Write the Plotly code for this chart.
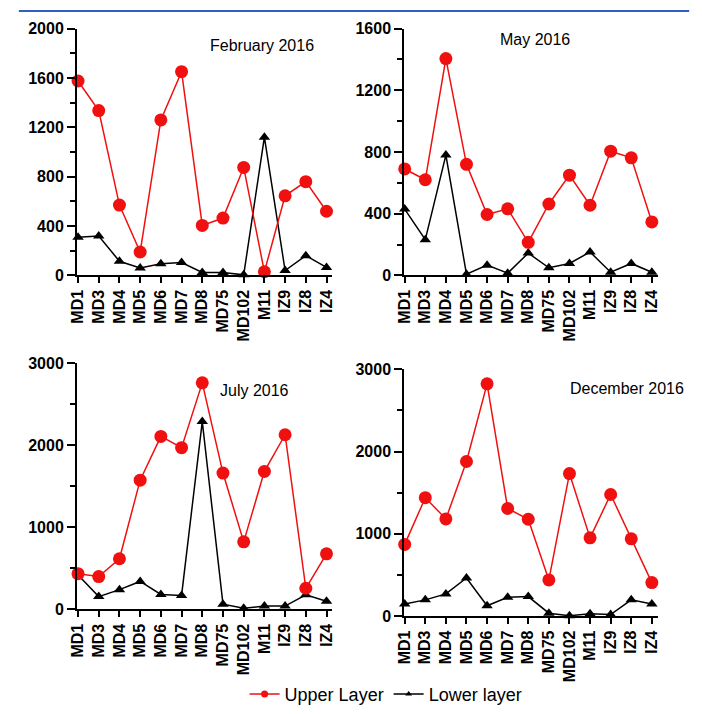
import plotly.graph_objects as go

sites = ["MD1", "MD3", "MD4", "MD5", "MD6", "MD7", "MD8", "MD75", "MD102", "M11", "IZ9", "IZ8", "IZ4"]

feb_upper = [1575, 1335, 570, 190, 1260, 1650, 405, 465, 875, 30, 645, 760, 520]
feb_lower = [310, 320, 115, 60, 95, 105, 25, 25, 5, 1120, 40, 160, 65]

may_upper = [690, 620, 1405, 720, 395, 432, 215, 463, 650, 455, 805, 762, 347]
may_lower = [430, 232, 780, 8, 67, 15, 145, 50, 78, 152, 21, 78, 21]

jul_upper = [435, 400, 617, 1575, 2109, 1971, 2762, 1662, 823, 1682, 2129, 257, 677]
jul_lower = [420, 155, 240, 340, 182, 170, 2290, 63, 12, 40, 40, 178, 99]

dec_upper = [872, 1439, 1181, 1879, 2822, 1308, 1177, 440, 1732, 951, 1478, 939, 408]
dec_lower = [147, 198, 270, 464, 127, 230, 238, 36, 5, 28, 20, 198, 147]

panels = [
    ("February 2016", feb_upper, feb_lower, 2000, 400, 200),
    ("May 2016", may_upper, may_lower, 1600, 400, 200),
    ("July 2016", jul_upper, jul_lower, 3000, 1000, 500),
    ("December 2016", dec_upper, dec_lower, 3000, 1000, 500),
]

W, H = 702, 714


def xf(px):
    return px / W


def yf(py):
    return 1 - py / H


# window-pixel boxes: (x0, x1, ytop, ybottom)
boxes = [(70, 329, 21, 274), (402, 659, 21, 274), (70, 329, 364, 616), (402, 659, 370, 623)]
title_pos = [(258, 38), (535, 32), (250, 392), (628, 390)]

RED = "#f01010"
FONT = "Arial, Liberation Sans, sans-serif"

fig = go.Figure()
layout = dict(
    width=W, height=H, margin=dict(l=0, r=0, t=0, b=0),
    paper_bgcolor="white", plot_bgcolor="white",
    font=dict(family=FONT, color="black"),
    showlegend=True,
    annotations=[], shapes=[],
)

for i, (title, up, lo, ymax, dt, mdt) in enumerate(panels):
    n = "" if i == 0 else str(i + 1)
    x0, x1, yt, yb = boxes[i]
    fig.add_trace(go.Scatter(x=sites, y=lo, mode="lines+markers", xaxis="x" + n, yaxis="y" + n,
                             line=dict(color="black", width=1.5),
                             marker=dict(symbol="triangle-up", size=10, color="black"),
                             cliponaxis=False, showlegend=False))
    fig.add_trace(go.Scatter(x=sites, y=up, mode="lines+markers", xaxis="x" + n, yaxis="y" + n,
                             line=dict(color=RED, width=1.5),
                             marker=dict(symbol="circle", size=13, color=RED),
                             cliponaxis=False, showlegend=False))
    xstart = -0.05 if i in (0, 2) else -0.02
    layout["xaxis" + n] = dict(
        domain=[xf(x0), xf(x1)], anchor="y" + n, type="category",
        categoryorder="array", categoryarray=sites,
        range=[xstart, 12.28], showgrid=False, zeroline=False,
        showline=True, linecolor="black", linewidth=2,
        ticks="outside", ticklen=6, tickwidth=1.5, tickcolor="black",
        tickangle=-90, tickfont=dict(family=FONT, size=16, weight="bold", color="black"),
        fixedrange=True,
    )
    layout["yaxis" + n] = dict(
        domain=[yf(yb), yf(yt)], anchor="x" + n,
        range=[0, ymax], dtick=dt, tick0=0, showgrid=False, zeroline=False,
        showline=True, linecolor="black", linewidth=2,
        ticks="outside", ticklen=8, tickwidth=1.5, tickcolor="black",
        minor=dict(dtick=mdt, ticklen=5, tickwidth=1.5, tickcolor="black", ticks="outside"),
        tickfont=dict(family=FONT, size=16, weight="bold", color="black"),
        fixedrange=True,
    )
    tx, ty = title_pos[i]
    layout["annotations"].append(dict(
        text=title, x=xf(tx), y=yf(ty), xref="paper", yref="paper",
        xanchor="center", yanchor="middle", showarrow=False,
        font=dict(family=FONT, size=16, color="black")))

# legend-only entries
fig.add_trace(go.Scatter(x=[None], y=[None], mode="lines+markers", name="Upper Layer",
                         line=dict(color=RED, width=1.5), marker=dict(symbol="circle", size=7, color=RED)))
fig.add_trace(go.Scatter(x=[None], y=[None], mode="lines+markers", name="Lower layer",
                         line=dict(color="black", width=1.5), marker=dict(symbol="triangle-up", size=6, color="black")))

layout["legend"] = dict(orientation="h", x=xf(240), y=yf(703), xanchor="left", yanchor="middle",
                        font=dict(family=FONT, size=18, color="black"), bgcolor="rgba(0,0,0,0)",
                        tracegroupgap=0, itemwidth=30)

layout["shapes"].append(dict(type="line", xref="paper", yref="paper",
                             x0=xf(11), x1=xf(691), y0=yf(3), y1=yf(3),
                             line=dict(color="#2f5fc4", width=2)))

fig.update_layout(**layout)
fig.write_html("out.html", config={"displayModeBar": False},
               post_script="document.body.style.margin='0';document.body.style.overflow='hidden';")
